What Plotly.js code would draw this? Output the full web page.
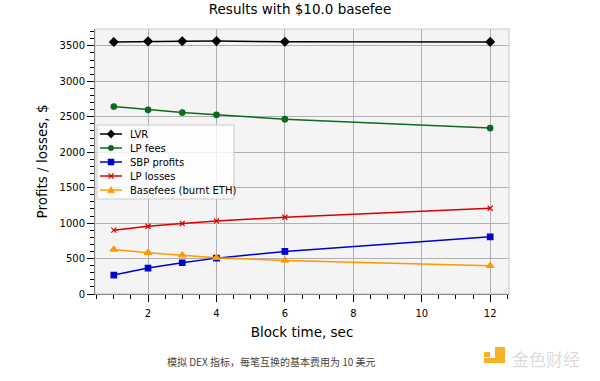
<!DOCTYPE html>
<html>
<head>
<meta charset="utf-8">
<script src="https://cdn.plot.ly/plotly-3.0.1.min.js"></script>
<style>html,body{margin:0;padding:0;background:#fff;}#chart{width:600px;height:381px;}</style>
</head>
<body>
<div id="chart"></div>
<script>
const blockTimes = [1, 2, 3, 4, 6, 12];
const lvr = [3555, 3565, 3565, 3567, 3558, 3556];
const lpFees = [2645, 2598, 2560, 2527, 2466, 2340];
const sbpProfits = [267, 366, 441, 506, 600, 806];
const lpLosses = [900, 956, 994, 1031, 1083, 1210];
const basefees = [628, 581, 548, 511, 474, 398];
const seriesNames = ["LVR", "LP fees", "SBP profits", "LP losses", "Basefees (burnt ETH)"];
const seriesColors = ["#000000", "#0b6b1f", "#0000cc", "#d80000", "#ff9900"];
const titleText = "Results with $10.0 basefee";
const xTitle = "Block time, sec";
const yTitle = "Profits / losses, $";
const caption = "模拟 DEX 指标，每笔互换的基本费用为 10 美元";
const logoText = "金色财经";

const font = "DejaVu Sans, sans-serif";
const L = 95, T = 29, W = 414, H = 265;
const px = x => (x - L) / W;
const py = y => (T + H - y) / H;

function tr(y, i, symbol, size) {
  const c = seriesColors[i];
  return {x: blockTimes, y: y, name: seriesNames[i], type: "scatter", mode: "lines+markers", showlegend: false,
    line: {color: c, width: 1.5}, marker: {color: c, symbol: symbol, size: size, line: {color: c, width: 1.2}}};
}
const data = [
  tr(lvr, 0, "diamond", 6.5),
  tr(lpFees, 1, "circle", 5.5),
  tr(sbpProfits, 2, "square", 5.5),
  tr(lpLosses, 3, "x-thin-open", 5),
  tr(basefees, 4, "triangle-up", 6.5)
];

const shapes = [
  {type: "rect", xref: "paper", yref: "paper", x0: 0, x1: 1, y0: 0, y1: 1, line: {color: "#c8c8c8", width: 1}, layer: "above"},
  {type: "rect", xref: "paper", yref: "paper", x0: px(97), x1: px(234), y0: py(199), y1: py(125),
    fillcolor: "rgba(255,255,255,0.8)", line: {color: "#cccccc", width: 1}, layer: "above"}
];
const annotations = [];
const rowY = [134, 148, 162, 176, 190];
const markerPaths = [
  "M0,4.2 L4,0 L0,-4.2 L-4,0 Z",
  null,
  "M-3,-3 L3,-3 L3,3 L-3,3 Z",
  "M-2.6,-2.6 L2.6,2.6 M-2.6,2.6 L2.6,-2.6",
  "M-3.6,-2.8 L3.6,-2.8 L0,3.6 Z"
];
seriesNames.forEach((name, i) => {
  const c = seriesColors[i];
  const yy = py(rowY[i]);
  shapes.push({type: "line", xref: "paper", yref: "paper", x0: px(100), x1: px(122), y0: yy, y1: yy,
    line: {color: c, width: 1.5}, layer: "above"});
  if (i === 1) {
    shapes.push({type: "circle", xref: "paper", yref: "paper", xsizemode: "pixel", ysizemode: "pixel",
      xanchor: px(111), yanchor: yy, x0: -2.8, x1: 2.8, y0: -2.8, y1: 2.8, fillcolor: c, line: {color: c, width: 0.5}, layer: "above"});
  } else {
    shapes.push({type: "path", xref: "paper", yref: "paper", xsizemode: "pixel", ysizemode: "pixel",
      xanchor: px(111), yanchor: yy, path: markerPaths[i], fillcolor: i === 3 ? "rgba(0,0,0,0)" : c,
      line: {color: c, width: i === 3 ? 1.3 : 0.5}, layer: "above"});
  }
  annotations.push({text: name, xref: "paper", yref: "paper", x: px(128), y: yy, xanchor: "left", yanchor: "middle",
    showarrow: false, font: {family: font, size: 10, color: "#000"}});
});

shapes.push({type: "rect", xref: "paper", yref: "paper", x0: px(495), x1: px(505), y0: py(362), y1: py(347), fillcolor: "#f5b324", line: {width: 0}});
shapes.push({type: "rect", xref: "paper", yref: "paper", x0: px(484), x1: px(505), y0: py(363), y1: py(358), fillcolor: "#f5b324", line: {width: 0}});
shapes.push({type: "rect", xref: "paper", yref: "paper", x0: px(484), x1: px(490), y0: py(357), y1: py(352), fillcolor: "#f5b324", line: {width: 0}});
annotations.push({text: caption, xref: "paper", yref: "paper", x: px(271), y: py(361), xanchor: "center", yanchor: "middle", showarrow: false,
  font: {family: "Noto Sans CJK SC, sans-serif", size: 10, color: "#444"}});
annotations.push({text: logoText, xref: "paper", yref: "paper", x: px(546), y: py(358), xanchor: "center", yanchor: "middle", showarrow: false,
  font: {family: "Noto Sans CJK SC, sans-serif", size: 17, color: "#dcdcdc"}});

const layout = {
  width: 600, height: 381,
  margin: {l: L, r: 600 - L - W, t: T, b: 381 - T - H},
  paper_bgcolor: "#ffffff", plot_bgcolor: "#f4f4f4",
  font: {family: font, size: 10, color: "#000"},
  title: {text: titleText, font: {family: font, size: 13.5, color: "#000"}, x: 0.5, xanchor: "center", y: 0.975, yanchor: "middle"},
  showlegend: false,
  xaxis: {range: [0.45, 12.55], tickvals: [2, 4, 6, 8, 10, 12], ticks: "outside", ticklen: 7, tickcolor: "#000",
    ticklabelstandoff: 3,
    showgrid: true, gridcolor: "#b0b0b0", gridwidth: 1, zeroline: false,
    showline: true, linecolor: "#444", linewidth: 1, mirror: false,
    minor: {dtick: 0.5, tick0: 0, ticks: "outside", ticklen: 4, tickcolor: "#000", showgrid: false},
    title: {text: xTitle, font: {family: font, size: 13.5}, standoff: 9}},
  yaxis: {range: [0, 3738], tickvals: [0, 500, 1000, 1500, 2000, 2500, 3000, 3500], ticks: "outside", ticklen: 7, tickcolor: "#000",
    showgrid: true, gridcolor: "#b0b0b0", gridwidth: 1, zeroline: false,
    showline: true, linecolor: "#444", linewidth: 1,
    minor: {dtick: 100, tick0: 0, ticks: "outside", ticklen: 4, tickcolor: "#000", showgrid: false},
    title: {text: yTitle, font: {family: font, size: 13.5}, standoff: 8}},
  shapes: shapes,
  annotations: annotations
};

Plotly.newPlot("chart", data, layout, {displayModeBar: false, staticPlot: true});
</script>
</body>
</html>
